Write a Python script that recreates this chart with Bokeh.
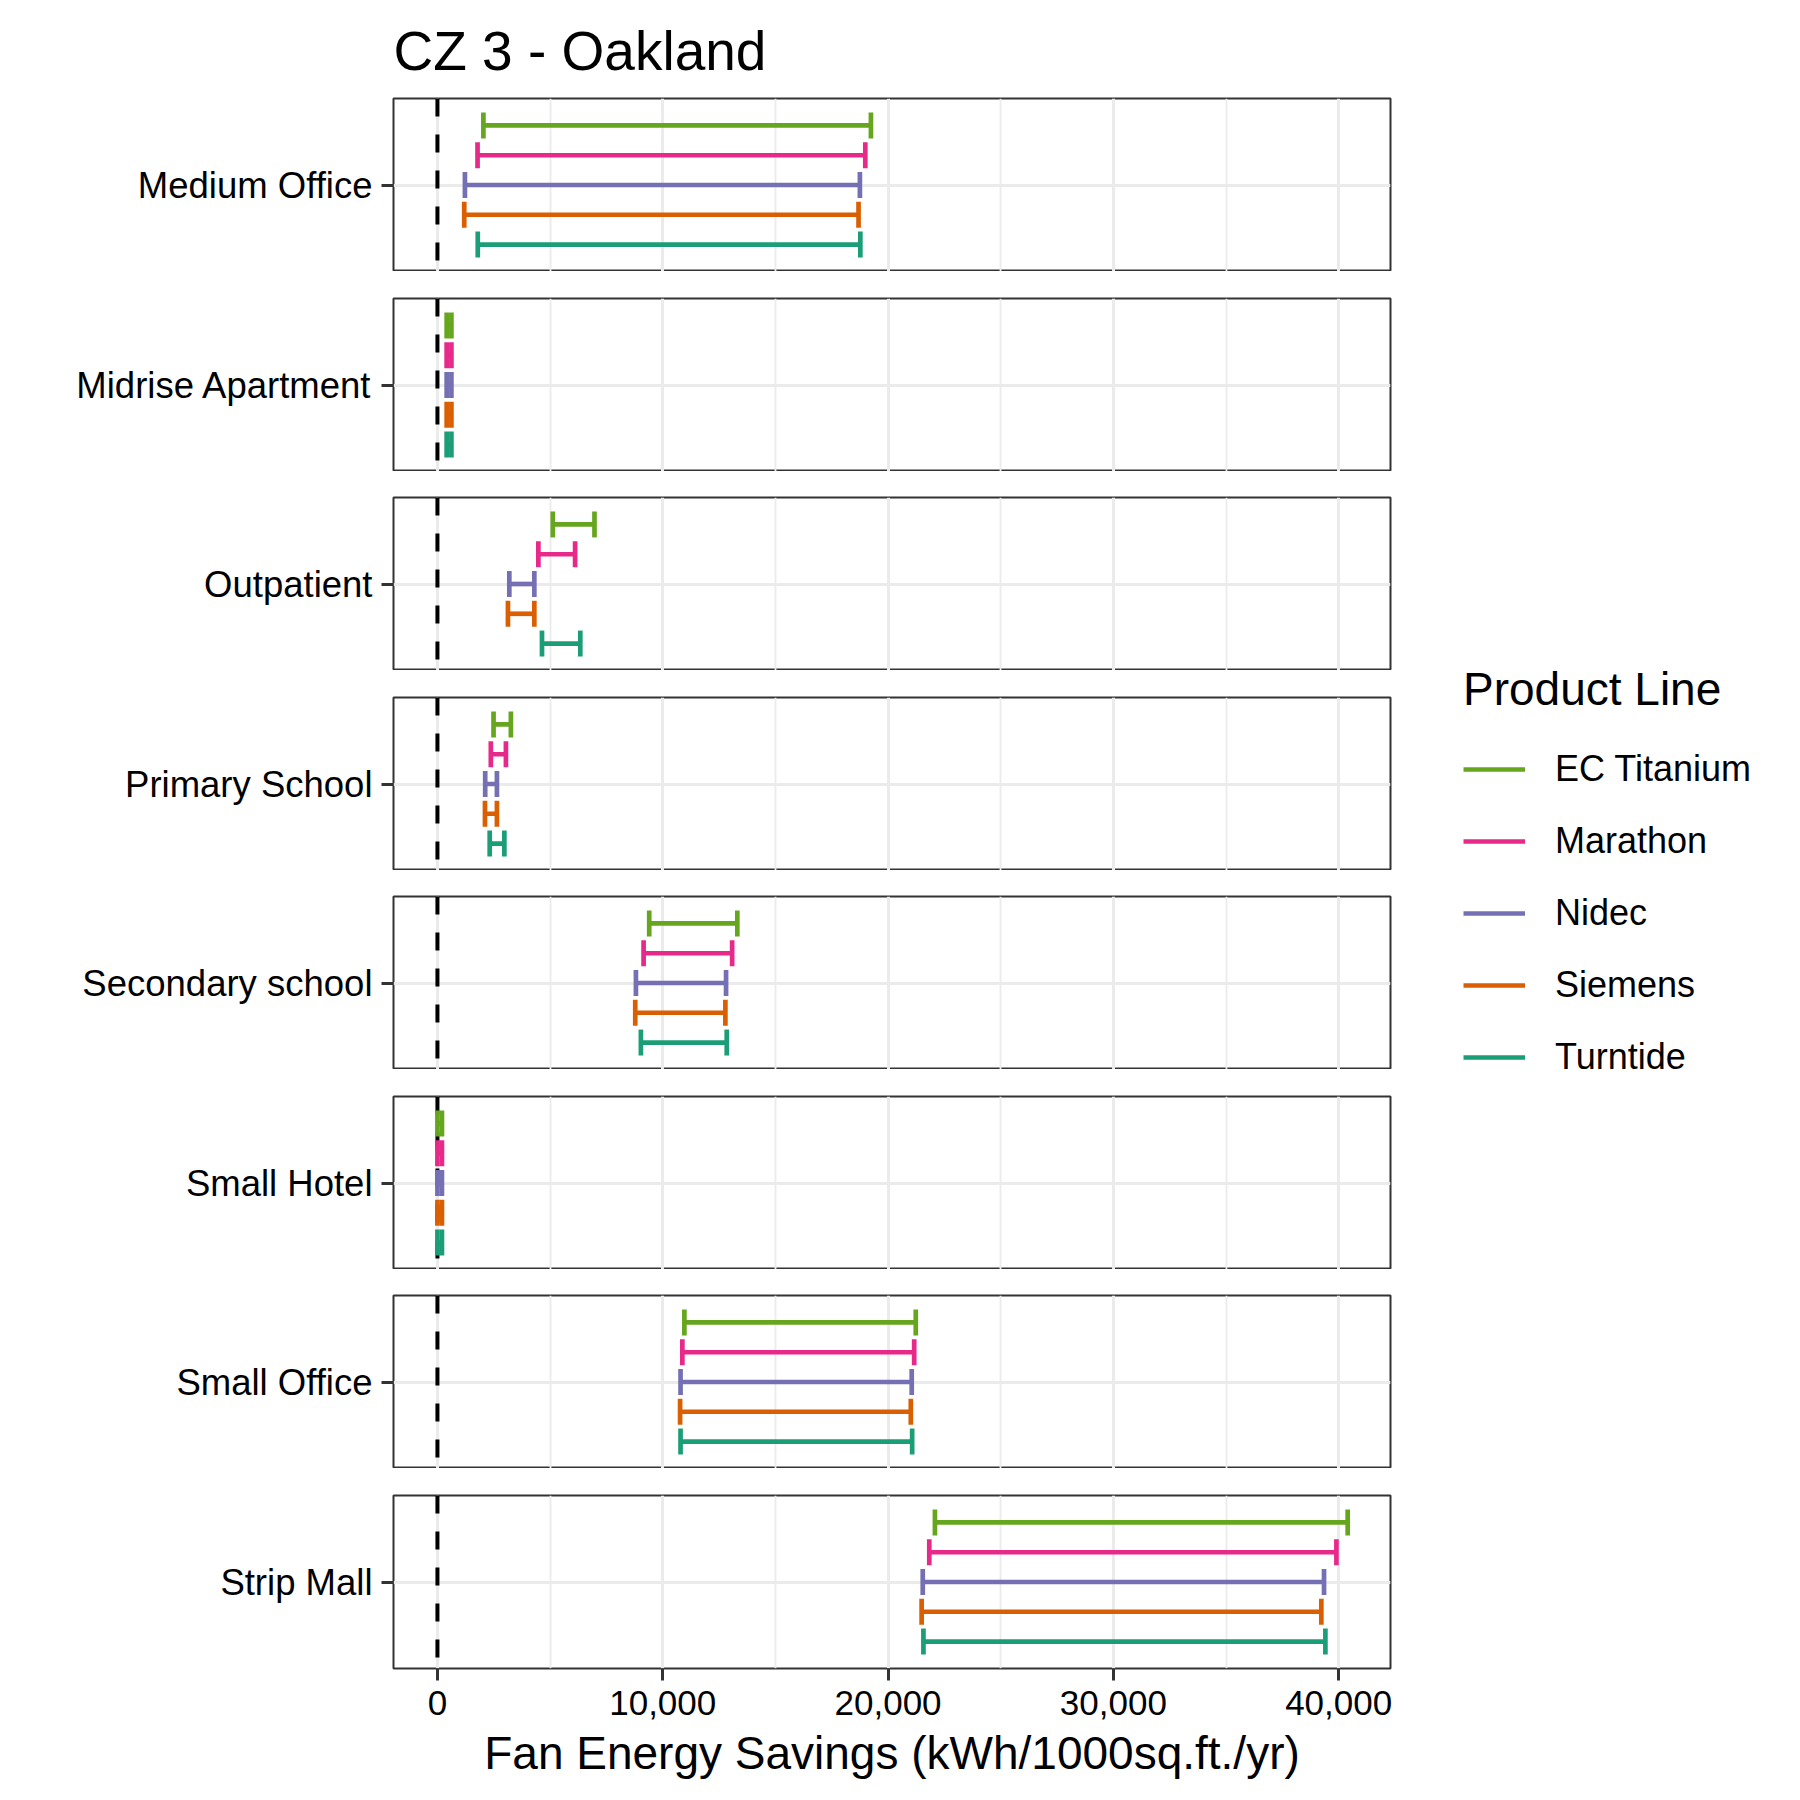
from bokeh.plotting import figure
from bokeh.models import (Range1d, FixedTicker, NumeralTickFormatter, Span,
                          Legend, LegendItem, ColumnDataSource)
from bokeh.layouts import column, row
from bokeh.embed import file_html
from bokeh.resources import INLINE

# ---------------- data ----------------
title_text = "CZ 3 - Oakland"
x_label = "Fan Energy Savings (kWh/1000sq.ft./yr)"
legend_title = "Product Line"

buildings = ["Medium Office", "Midrise Apartment", "Outpatient", "Primary School",
             "Secondary school", "Small Hotel", "Small Office", "Strip Mall"]
products = ["EC Titanium", "Marathon", "Nidec", "Siemens", "Turntide"]
colors = ["#66A61E", "#E7298A", "#7570B3", "#D95F02", "#1B9E77"]

low_ec_titanium = [2040, 410, 5120, 2490, 9400, 0, 10960, 22080]
high_ec_titanium = [19240, 620, 6970, 3260, 13310, 200, 21230, 40400]
low_marathon = [1780, 410, 4480, 2370, 9150, 0, 10870, 21830]
high_marathon = [18990, 620, 6110, 3040, 13080, 200, 21160, 39900]
low_nidec = [1220, 410, 3190, 2120, 8810, 0, 10790, 21540]
high_nidec = [18750, 620, 4300, 2640, 12810, 200, 21050, 39350]
low_siemens = [1190, 410, 3130, 2110, 8780, 0, 10770, 21490]
high_siemens = [18690, 620, 4300, 2640, 12780, 200, 21010, 39230]
low_turntide = [1790, 410, 4640, 2320, 9030, 0, 10790, 21570]
high_turntide = [18770, 620, 6340, 2970, 12840, 200, 21070, 39410]

x_ticks = [0, 10000, 20000, 30000, 40000]
x_minor_ticks = [5000, 15000, 25000, 35000]

lows = [low_ec_titanium, low_marathon, low_nidec, low_siemens, low_turntide]
highs = [high_ec_titanium, high_marathon, high_nidec, high_siemens, high_turntide]

# ---------------- style ----------------
FONT = "Liberation Sans"
GRID = "#EBEBEB"
DARK = "#333333"
DODGE = 0.2065
CAP = 0.09
LW = 4.7
FRAME_W, FRAME_H = 997, 173
TOP0, BOTTOM = 98, 121
GAPS = [27, 26, 27, 26, 27, 26, 27]

x_range = Range1d(-1950, 42300)

figs = []
n = len(buildings)
for i, b in enumerate(buildings):
    first = i == 0
    last = i == n - 1
    kw = dict(frame_width=FRAME_W, frame_height=FRAME_H, x_range=x_range,
              y_range=Range1d(-0.6, 0.6), output_backend="svg",
              toolbar_location=None,
              x_axis_location="below" if last else None,
              min_border_left=393, min_border_right=10,
              min_border_top=TOP0 if first else GAPS[i - 1],
              min_border_bottom=BOTTOM if last else 0)
    if first:
        kw["title"] = title_text
    p = figure(**kw)
    if first:
        p.title.text_font = FONT
        p.title.text_font_size = "55px"
        p.title.text_font_style = "normal"
        p.title.text_color = "black"
        p.title.align = "left"
        p.title.standoff = 33
    else:
        p.title.visible = False

    p.outline_line_color = DARK
    p.outline_line_width = 2
    p.background_fill_color = "white"

    # grids
    p.xgrid.ticker = FixedTicker(ticks=x_ticks, minor_ticks=x_minor_ticks)
    p.xgrid.grid_line_color = GRID
    p.xgrid.grid_line_width = 3
    p.xgrid.minor_grid_line_color = GRID
    p.xgrid.minor_grid_line_width = 1.8
    p.ygrid.ticker = FixedTicker(ticks=[0])
    p.ygrid.grid_line_color = GRID
    p.ygrid.grid_line_width = 3

    # y axis (facet label)
    ya = p.yaxis[0]
    ya.ticker = FixedTicker(ticks=[0])
    ya.major_label_overrides = {0: b}
    ya.axis_line_color = None
    ya.major_tick_out = 12
    ya.major_tick_in = 0
    ya.minor_tick_out = 0
    ya.minor_tick_in = 0
    ya.major_tick_line_color = DARK
    ya.major_tick_line_width = 3
    ya.major_label_text_font = FONT
    ya.major_label_text_font_size = "36.5px"
    ya.major_label_text_color = "black"
    ya.major_label_standoff = 9

    if last:
        xa = p.xaxis[0]
        xa.ticker = FixedTicker(ticks=x_ticks, minor_ticks=x_minor_ticks)
        xa.formatter = NumeralTickFormatter(format="0,0")
        xa.axis_line_color = None
        xa.major_tick_out = 12
        xa.major_tick_in = 0
        xa.minor_tick_out = 0
        xa.minor_tick_in = 0
        xa.major_tick_line_color = DARK
        xa.major_tick_line_width = 3
        xa.major_label_text_font = FONT
        xa.major_label_text_font_size = "35px"
        xa.major_label_text_color = "black"
        xa.major_label_standoff = 10
        xa.axis_label = x_label
        xa.axis_label_text_font = FONT
        xa.axis_label_text_font_size = "46px"
        xa.axis_label_text_font_style = "normal"
        xa.axis_label_text_color = "black"
        xa.axis_label_standoff = 9

    # dashed zero line beneath the error bars
    p.add_layout(Span(location=0, dimension="height", line_color="black",
                      line_width=4, line_dash="18 18", level="underlay"))

    ys = [DODGE * (2 - k) for k in range(len(products))]
    src = ColumnDataSource(dict(
        lo=[lows[k][i] for k in range(len(products))],
        hi=[highs[k][i] for k in range(len(products))],
        y=ys,
        y0=[y - CAP for y in ys],
        y1=[y + CAP for y in ys],
        color=colors,
    ))
    p.segment(x0="lo", y0="y", x1="hi", y1="y", line_color="color", line_width=LW, source=src)
    p.segment(x0="lo", y0="y0", x1="lo", y1="y1", line_color="color", line_width=LW, source=src)
    p.segment(x0="hi", y0="y0", x1="hi", y1="y1", line_color="color", line_width=LW, source=src)
    figs.append(p)

total_h = TOP0 + n * FRAME_H + sum(GAPS) + BOTTOM

lf = figure(frame_width=390, frame_height=total_h, min_border=0,
            x_axis_location=None, y_axis_location=None, toolbar_location=None,
            output_backend="svg", x_range=Range1d(0, 1), y_range=Range1d(0, 1))
lf.grid.visible = False
lf.outline_line_color = None
items = []
for name, c in zip(products, colors):
    # legend key only: the sample points sit outside the visible range
    r = lf.line(x=[5, 6], y=[5, 6], line_color=c, line_width=LW)
    items.append(LegendItem(label=name, renderers=[r]))
leg = Legend(items=items, location=(63, 696), title=legend_title,
             title_text_font=FONT, title_text_font_size="46px",
             title_text_font_style="normal", title_text_color="black",
             title_standoff=17,
             label_text_font=FONT, label_text_font_size="36px", label_text_color="black",
             glyph_width=62, glyph_height=72, label_height=72, label_standoff=30,
             spacing=0, padding=0, margin=0,
             border_line_color=None, background_fill_alpha=0)
lf.add_layout(leg, "center")

layout = row(column(figs, spacing=0), lf, spacing=0)

open("out.html", "w").write(file_html(layout, INLINE))
